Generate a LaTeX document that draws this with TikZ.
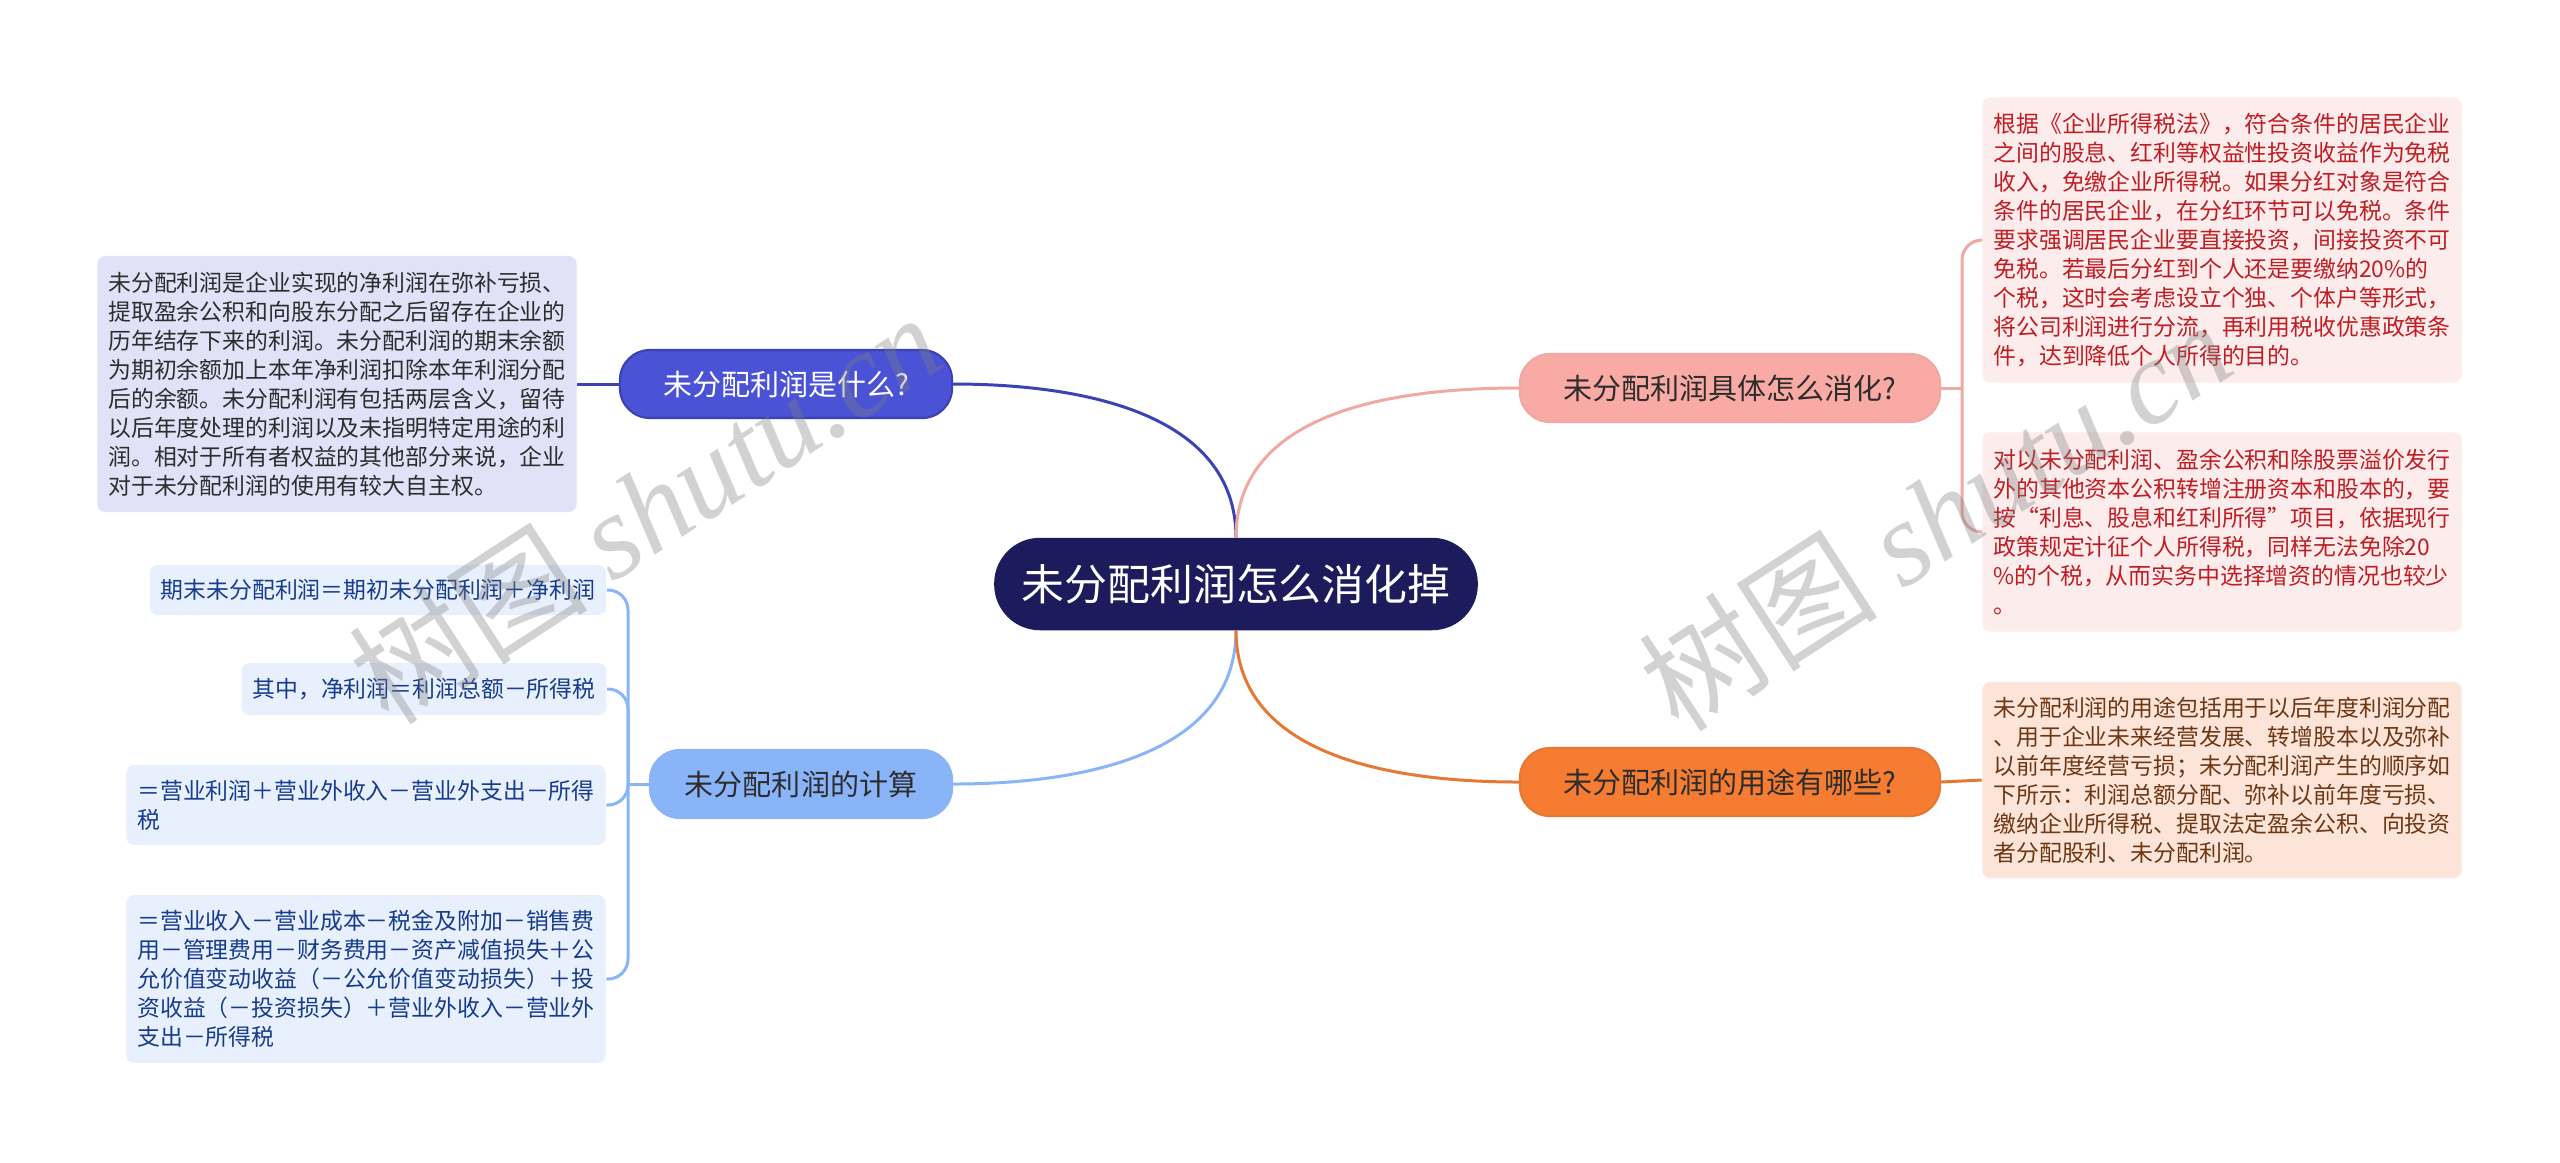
\documentclass[tikz,border=0pt]{standalone}
\usepackage{fontspec}
\setmainfont{Noto Sans CJK SC}
\newfontfamily\markfont{Liberation Serif}
\usepackage{tikz}
\definecolor{Rootcolor}{RGB}{28,27,92}
\definecolor{Whatcolor}{RGB}{74,82,214}
\definecolor{Whatline}{RGB}{58,66,180}
\definecolor{Whatnote}{RGB}{225,225,248}
\definecolor{Howcolor}{RGB}{249,170,165}
\definecolor{Howline}{RGB}{240,168,163}
\definecolor{Hownote}{RGB}{253,236,236}
\definecolor{Howtext}{RGB}{190,30,35}
\definecolor{Usecolor}{RGB}{245,124,48}
\definecolor{Useline}{RGB}{230,120,52}
\definecolor{Usenote}{RGB}{252,229,216}
\definecolor{Usetext}{RGB}{110,55,20}
\definecolor{Calccolor}{RGB}{138,180,248}
\definecolor{Calcnote}{RGB}{232,240,253}
\definecolor{Calctext}{RGB}{22,60,140}
\definecolor{Darktext}{RGB}{45,45,45}

\begin{document}
\begin{tikzpicture}[
  x=0.01cm, y=-0.01cm,
  rootbox/.style={rectangle, rounded corners=0.45cm,
                  draw=Rootcolor, fill=Rootcolor, text=white,
                  minimum width=4.82cm, minimum height=0.91cm,
                  font=\fontsize{12.2}{14}\selectfont},
  topicbox/.style={rectangle, rounded corners=0.3cm,
                   minimum height=0.68cm, line width=0.6pt,
                   font=\fontsize{8.25}{10}\selectfont},
  notebox/.style={rectangle, rounded corners=0.08cm,
                  align=left, inner xsep=0.11cm,
                  font=\fontsize{6.5}{8.25}\selectfont},
  linkline/.style={line width=0.85pt},
  markbox/.style={rotate=33, text=gray, opacity=0.35,
                  font=\fontsize{34}{36}\selectfont}
]
\fill[white] (0,0) rectangle (2560,1162);
\useasboundingbox (0,0) rectangle (2560,1162);

%% --- ROOT ---
\node[rootbox] (root) at (1236,584) {未分配利润怎么消化掉};

%% --- TOPICS ---
\node[topicbox, draw=Whatline, fill=Whatcolor, text=white,
      minimum width=3.32cm] (what) at (786,384) {未分配利润是什么?};
\node[topicbox, draw=Howline, fill=Howcolor, text=Darktext,
      minimum width=4.2cm] (how) at (1730,388) {未分配利润具体怎么消化?};
\node[topicbox, draw=Useline, fill=Usecolor, text=Darktext,
      minimum width=4.2cm] (use) at (1730,782) {未分配利润的用途有哪些?};
\node[topicbox, draw=Calccolor, fill=Calccolor, text=Darktext,
      minimum width=3.02cm] (calc) at (801,784) {未分配利润的计算};

%% --- NOTES (left) ---
\node[notebox, fill=Whatnote, text=Darktext,
      minimum width=4.79cm, minimum height=2.56cm] (whatnote) at (337,384)
  {未分配利润是企业实现的净利润在弥补亏损、\\
   提取盈余公积和向股东分配之后留存在企业的\\
   历年结存下来的利润。未分配利润的期末余额\\
   为期初余额加上本年净利润扣除本年利润分配\\
   后的余额。未分配利润有包括两层含义，留待\\
   以后年度处理的利润以及未指明特定用途的利\\
   润。相对于所有者权益的其他部分来说，企业\\
   对于未分配利润的使用有较大自主权。};

\node[notebox, fill=Calcnote, text=Calctext,
      minimum width=4.56cm, minimum height=0.5cm] (calc1) at (378,590)
  {期末未分配利润＝期初未分配利润＋净利润};
\node[notebox, fill=Calcnote, text=Calctext,
      minimum width=3.64cm, minimum height=0.52cm] (calc2) at (424,689)
  {其中，净利润＝利润总额－所得税};
\node[notebox, fill=Calcnote, text=Calctext,
      minimum width=4.79cm, minimum height=0.8cm] (calc3) at (366,805)
  {＝营业利润＋营业外收入－营业外支出－所得\\
   税};
\node[notebox, fill=Calcnote, text=Calctext,
      minimum width=4.79cm, minimum height=1.68cm] (calc4) at (366,979)
  {＝营业收入－营业成本－税金及附加－销售费\\
   用－管理费用－财务费用－资产减值损失＋公\\
   允价值变动收益（－公允价值变动损失）＋投\\
   资收益（－投资损失）＋营业外收入－营业外\\
   支出－所得税};

%% --- NOTES (right) ---
\node[notebox, fill=Hownote, text=Howtext,
      minimum width=4.79cm, minimum height=2.85cm] (hownote1) at (2222,240)
  {根据《企业所得税法》，符合条件的居民企业\\
   之间的股息、红利等权益性投资收益作为免税\\
   收入，免缴企业所得税。如果分红对象是符合\\
   条件的居民企业，在分红环节可以免税。条件\\
   要求强调居民企业要直接投资，间接投资不可\\
   免税。若最后分红到个人还是要缴纳20\%的\\
   个税，这时会考虑设立个独、个体户等形式，\\
   将公司利润进行分流，再利用税收优惠政策条\\
   件，达到降低个人所得的目的。};
\node[notebox, fill=Hownote, text=Howtext,
      minimum width=4.79cm, minimum height=1.99cm] (hownote2) at (2222,532)
  {对以未分配利润、盈余公积和除股票溢价发行\\
   外的其他资本公积转增注册资本和股本的，要\\
   按“利息、股息和红利所得”项目，依据现行\\
   政策规定计征个人所得税，同样无法免除20\\
   \%的个税，从而实务中选择增资的情况也较少\\
   。};
\node[notebox, fill=Usenote, text=Usetext,
      minimum width=4.79cm, minimum height=1.96cm] (usenote) at (2222,780)
  {未分配利润的用途包括用于以后年度利润分配\\
   、用于企业未来经营发展、转增股本以及弥补\\
   以前年度经营亏损；未分配利润产生的顺序如\\
   下所示：利润总额分配、弥补以前年度亏损、\\
   缴纳企业所得税、提取法定盈余公积、向投资\\
   者分配股利、未分配利润。};

%% --- BRANCHES ---
\draw[linkline, Whatline] (root.north) .. controls +(0,-126) and +(126,0) .. (what.east);
\draw[linkline, Howline]  (root.north) .. controls +(0,-126) and +(-126,0) .. (how.west);
\draw[linkline, Calccolor] (root.south) .. controls +(0,126) and +(126,0) .. (calc.east);
\draw[linkline, Useline]  (root.south) .. controls +(0,126) and +(-126,0) .. (use.west);

%% --- LEAVES ---
\draw[linkline, Whatline] (what.west) -- (whatnote.east);
\draw[linkline, Useline] (use.east) -- (usenote.west);

\coordinate (howjoin) at (1962,388);
\draw[linkline, Howline] (how.east) -- (howjoin);
\foreach \leaf in {hownote1, hownote2}
  \draw[linkline, Howline, rounded corners=0.2cm] (howjoin) |- (\leaf.west);

\coordinate (calcjoin) at (628,784);
\draw[linkline, Calccolor] (calc.west) -- (calcjoin);
\foreach \leaf in {calc1, calc2, calc3, calc4}
  \draw[linkline, Calccolor, rounded corners=0.2cm] (calcjoin) |- (\leaf.east);

%% --- WATERMARK ---
\node[markbox] (markleft) at (645,508) {树图 {\markfont\itshape shutu.cn}};
\node[markbox] (markright) at (1935,515) {树图 {\markfont\itshape shutu.cn}};

\end{tikzpicture}
\end{document}
